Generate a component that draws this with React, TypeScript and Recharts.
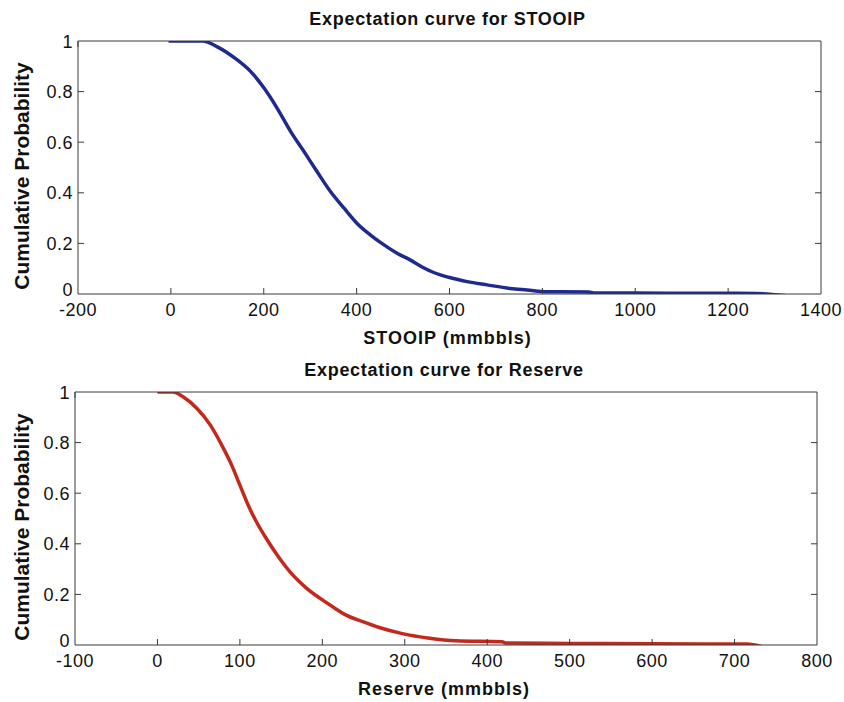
import React from "react";
import { LineChart, Line, XAxis, YAxis } from "recharts";

// STOOIP expectation curve (mmbbls vs cumulative probability)
const stooipX = [-5, 30, 68, 100, 143, 172, 201, 229, 258, 287, 315, 344, 373, 401, 430, 459, 487, 516, 540, 566, 598, 638, 681, 731, 767, 810, 900, 910, 1000, 1100, 1200, 1260, 1322];
const stooipP = [1, 1, 1, 0.977, 0.925, 0.879, 0.813, 0.734, 0.642, 0.562, 0.483, 0.404, 0.339, 0.279, 0.233, 0.194, 0.161, 0.134, 0.108, 0.085, 0.066, 0.049, 0.036, 0.022, 0.016, 0.009, 0.008, 0.004, 0.004, 0.003, 0.003, 0.002, -0.006];

// Reserve expectation curve
const reserveX = [0, 10, 19, 31, 48, 64, 78, 90, 100, 110, 120, 132, 148, 164, 181, 197, 213, 229, 249, 269, 297, 330, 362, 418, 422, 500, 600, 700, 715, 735];
const reserveP = [1, 1, 1, 0.981, 0.935, 0.87, 0.79, 0.711, 0.632, 0.553, 0.487, 0.421, 0.343, 0.277, 0.224, 0.185, 0.15, 0.118, 0.092, 0.069, 0.045, 0.027, 0.017, 0.013, 0.008, 0.006, 0.005, 0.004, 0.004, -0.008];

const stooipTicks = [-200, 0, 200, 400, 600, 800, 1000, 1200, 1400];
const reserveTicks = [-100, 0, 100, 200, 300, 400, 500, 600, 700, 800];
const probTicks = [0, 0.2, 0.4, 0.6, 0.8, 1];

const stooipData = stooipX.map((x, i) => ({ x, p: stooipP[i] }));
const reserveData = reserveX.map((x, i) => ({ x, p: reserveP[i] }));

const FONT = "'Liberation Sans', Arial, sans-serif";
const AXIS = "#3a3a3a";
const TICK_LEN = 6;

// bottom axis: label + inward tick (no tick at the box corners)
const BottomTick = ({ x, y, payload, lo, hi }: any) => {
    const inner = payload.value !== lo && payload.value !== hi;
    return (
        <g>
            {inner && <line x1={x} x2={x} y1={y} y2={y - TICK_LEN} stroke={AXIS} strokeWidth={1} />}
            <text x={x} y={y + 22} textAnchor="middle" fontSize={18} letterSpacing={0.5} fill="#111" fontFamily={FONT}>
                {String(payload.value)}
            </text>
        </g>
    );
};

const TopTick = ({ x, y, payload, lo, hi }: any) => {
    if (payload.value === lo || payload.value === hi) return <g />;
    return <line x1={x} x2={x} y1={y} y2={y + TICK_LEN} stroke={AXIS} strokeWidth={1} />;
};

const LeftTick = ({ x, y, payload }: any) => {
    const inner = payload.value !== 0 && payload.value !== 1;
    // the "0" sits a little higher so it clears the first x label
    const dy = payload.value === 0 ? 2 : 6.5;
    return (
        <g>
            {inner && <line x1={x} x2={x + TICK_LEN} y1={y} y2={y} stroke={AXIS} strokeWidth={1} />}
            <text x={x - 5} y={y + dy} textAnchor="end" fontSize={18} letterSpacing={0.5} fill="#111" fontFamily={FONT}>
                {String(payload.value)}
            </text>
        </g>
    );
};

const RightTick = ({ x, y, payload }: any) => {
    if (payload.value === 0 || payload.value === 1) return <g />;
    return <line x1={x - TICK_LEN} x2={x} y1={y} y2={y} stroke={AXIS} strokeWidth={1} />;
};

interface PanelProps {
    top: number;
    height: number;
    plotLeft: number;
    plotRight: number;
    plotTop: number;
    plotBottom: number;
    data: { x: number; p: number }[];
    ticks: number[];
    color: string;
    title: string;
    xLabel: string;
}

const Panel = ({ top, height, plotLeft, plotRight, plotTop, plotBottom, data, ticks, color, title, xLabel }: PanelProps) => {
    const lo = ticks[0];
    const hi = ticks[ticks.length - 1];
    const xAxisH = 30;
    const margin = {
        top: plotTop - 1,
        right: 844 - plotRight - 1,
        bottom: height - plotBottom - xAxisH,
        left: 0,
    };
    const cx = (plotLeft + plotRight) / 2 - 2;
    const textStyle: React.CSSProperties = {
        position: "absolute",
        width: 600,
        left: cx - 300,
        textAlign: "center",
        fontFamily: FONT,
        fontWeight: "bold",
        fontSize: 18,
        lineHeight: "20px",
        color: "#111",
        whiteSpace: "nowrap",
    };
    return (
        <div style={{ position: "absolute", left: 0, top, width: 844, height }}>
            <LineChart width={844} height={height} data={data} margin={margin}>
                <XAxis
                    dataKey="x"
                    type="number"
                    domain={[lo, hi]}
                    ticks={ticks}
                    interval={0}
                    height={xAxisH}
                    tickSize={0}
                    tickMargin={0}
                    tickLine={false}
                    stroke={AXIS}
                    tick={(p: any) => <BottomTick {...p} lo={lo} hi={hi} />}
                    allowDataOverflow
                />
                <XAxis
                    xAxisId="top"
                    orientation="top"
                    type="number"
                    domain={[lo, hi]}
                    ticks={ticks}
                    interval={0}
                    height={1}
                    tickSize={0}
                    tickMargin={0}
                    tickLine={false}
                    stroke={AXIS}
                    tick={(p: any) => <TopTick {...p} lo={lo} hi={hi} />}
                    allowDataOverflow
                />
                <YAxis
                    type="number"
                    domain={[0, 1]}
                    ticks={probTicks}
                    interval={0}
                    width={plotLeft}
                    tickSize={0}
                    tickMargin={0}
                    tickLine={false}
                    stroke={AXIS}
                    tick={(p: any) => <LeftTick {...p} />}
                    allowDataOverflow
                />
                <YAxis
                    yAxisId="right"
                    orientation="right"
                    type="number"
                    domain={[0, 1]}
                    ticks={probTicks}
                    interval={0}
                    width={1}
                    tickSize={0}
                    tickMargin={0}
                    tickLine={false}
                    stroke={AXIS}
                    tick={(p: any) => <RightTick {...p} />}
                    allowDataOverflow
                />
                <Line
                    type="monotone"
                    dataKey="p"
                    stroke={color}
                    strokeWidth={3.5}
                    dot={false}
                    isAnimationActive={false}
                />
            </LineChart>
            <div style={{ ...textStyle, top: plotTop - 32, letterSpacing: 0.7 }}>{title}</div>
            <div style={{ ...textStyle, top: plotBottom + 34, letterSpacing: 1 }}>{xLabel}</div>
            <div
                style={{
                    ...textStyle,
                    left: 22 - 150,
                    width: 300,
                    fontSize: 21,
                    lineHeight: "22px",
                    top: (plotTop + plotBottom) / 2 + 8 - 11,
                    transform: "rotate(-90deg)",
                }}
            >
                Cumulative Probability
            </div>
        </div>
    );
};

export default function App() {
    return (
        <div style={{ position: "absolute", left: 0, top: 0, width: 844, height: 702, background: "#fff" }}>
            <Panel
                top={0}
                height={350}
                plotLeft={78}
                plotRight={821}
                plotTop={41}
                plotBottom={294}
                data={stooipData}
                ticks={stooipTicks}
                color="#1f2b8c"
                title="Expectation curve for STOOIP"
                xLabel="STOOIP (mmbbls)"
            />
            <Panel
                top={350}
                height={352}
                plotLeft={75}
                plotRight={817}
                plotTop={42}
                plotBottom={295}
                data={reserveData}
                ticks={reserveTicks}
                color="#c2281b"
                title="Expectation curve for Reserve"
                xLabel="Reserve (mmbbls)"
            />
        </div>
    );
}
